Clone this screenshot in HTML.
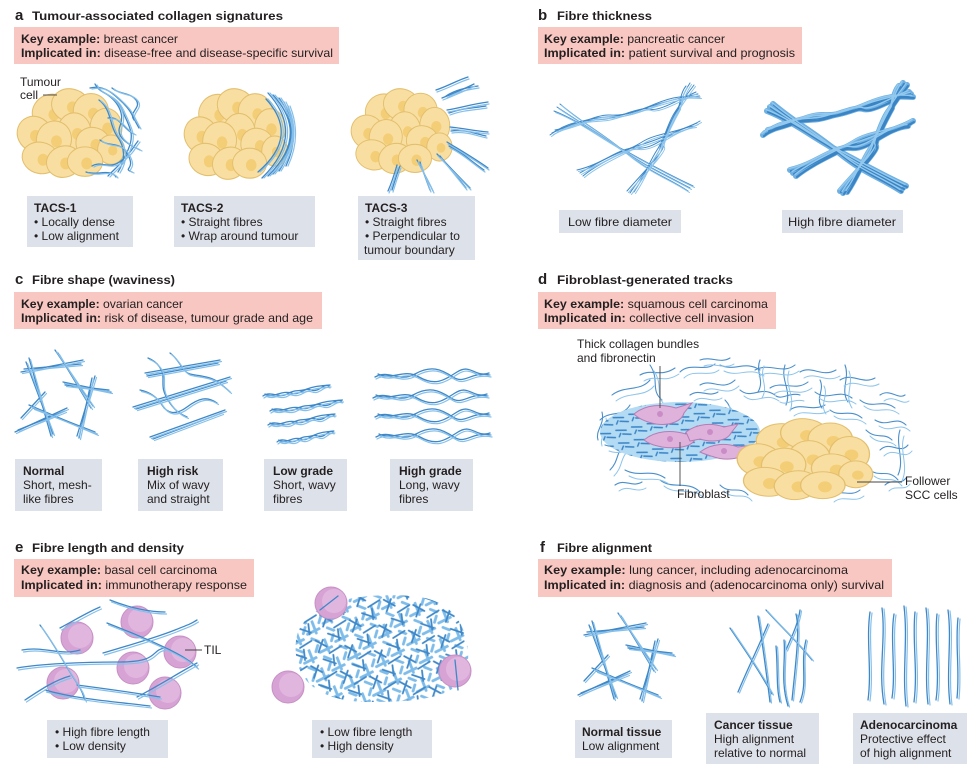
<!DOCTYPE html>
<html><head><meta charset="utf-8">
<style>
html,body{margin:0;padding:0;background:#fff;}
svg{display:block;}
text{font-family:"Liberation Sans",Arial,sans-serif;fill:#231f20;}
.L{font-size:15px;font-weight:bold;}
.t{font-size:11.5px;font-weight:bold;}
.b{font-size:12px;}
.bb{font-weight:bold;}
.fd{fill:none;stroke:#3f88c8;stroke-width:1.3;stroke-linecap:round;}
.fl{fill:none;stroke:#86c0ea;stroke-width:1.2;stroke-linecap:round;}
.ld{fill:none;stroke:#444;stroke-width:0.9;}
.pk{fill:#f9c7c1;}
.gr{fill:#dde1e9;}
</style></head><body>
<svg width="976" height="768" viewBox="0 0 976 768" xmlns="http://www.w3.org/2000/svg">
<defs>
<g id="tum" stroke="#e3bf6e" stroke-width="1.2">
 <ellipse cx="40" cy="26" rx="22" ry="19" fill="#f8dfa1" transform="rotate(-15 40 26)"/><circle cx="44" cy="29" r="6.5" fill="#f4cd77" stroke="none"/>
 <ellipse cx="64" cy="19" rx="23" ry="18" fill="#f8dfa1" transform="rotate(10 64 19)"/><circle cx="66" cy="21" r="6.5" fill="#f4cd77" stroke="none"/>
 <ellipse cx="88" cy="25" rx="21" ry="19" fill="#f8dfa1"/><circle cx="91" cy="28" r="6.5" fill="#f4cd77" stroke="none"/>
 <ellipse cx="106" cy="43" rx="19" ry="21" fill="#f8dfa1"/><circle cx="108" cy="44" r="6.5" fill="#f4cd77" stroke="none"/>
 <ellipse cx="21" cy="50" rx="21" ry="19" fill="#f8dfa1" transform="rotate(20 21 50)"/><circle cx="22" cy="52" r="6.5" fill="#f4cd77" stroke="none"/>
 <ellipse cx="68" cy="48" rx="20" ry="21" fill="#f8dfa1"/><circle cx="72" cy="50" r="6.5" fill="#f4cd77" stroke="none"/>
 <ellipse cx="44" cy="56" rx="21" ry="20" fill="#f8dfa1" transform="rotate(-20 44 56)"/><circle cx="47" cy="58" r="6.5" fill="#f4cd77" stroke="none"/>
 <ellipse cx="91" cy="61" rx="21" ry="18" fill="#f8dfa1" transform="rotate(15 91 61)"/><circle cx="94" cy="62" r="6.5" fill="#f4cd77" stroke="none"/>
 <ellipse cx="112" cy="67" rx="16" ry="16" fill="#f8dfa1"/><circle cx="114" cy="68" r="5.5" fill="#f4cd77" stroke="none"/>
 <ellipse cx="28" cy="76" rx="22" ry="17" fill="#f8dfa1" transform="rotate(10 28 76)"/><circle cx="31" cy="78" r="6.5" fill="#f4cd77" stroke="none"/>
 <ellipse cx="56" cy="80" rx="21" ry="17" fill="#f8dfa1" transform="rotate(-10 56 80)"/><circle cx="58" cy="82" r="6.5" fill="#f4cd77" stroke="none"/>
 <ellipse cx="81" cy="80" rx="21" ry="16" fill="#f8dfa1"/><circle cx="83" cy="82" r="6.5" fill="#f4cd77" stroke="none"/>
</g>

<g id="t1f">
<path d="M90,88 C105,84 116,96 124,104 S133,118 139,128"/>
<path d="M95,84 C101,96 114,92 122,110 S135,134 128,150 S118,165 108,176"/>
<path d="M103,92 C118,100 125,114 120,126 S130,145 140,150"/>
<path d="M99,100 C112,110 109,125 117,136 S126,160 118,172"/>
<path d="M92,166 C101,160 110,171 122,160 S131,150 138,141"/>
<path d="M108,118 C120,116 124,130 134,134"/>
<path d="M86,172 C96,176 110,168 116,177"/>
<path d="M112,88 C120,95 130,92 136,100 S128,112 134,120"/>
<path d="M100,140 C110,148 120,140 128,155 S122,168 132,172"/>
</g>

<g id="t2f">
<path d="M268,93 Q306,135 262,178"/>
<path d="M273,95 Q310,135 268,176"/>
<path d="M279,98 Q306,136 273,174"/>
<path d="M284,102 Q302,136 279,171"/>
<path d="M266,99 Q300,136 258,172"/>
<path d="M288,106 Q300,136 286,166"/>
</g>

<g id="t3f">
<path d="M442,98 C452,94 462,90 474,84"/>
<path d="M446,96 C455,90 465,88 478,86"/>
<path d="M447,110 C460,108 472,104 488,102"/>
<path d="M449,113 C462,108 475,108 486,106"/>
<path d="M450,127 C462,128 474,131 488,132"/>
<path d="M451,131 C465,129 476,134 486,136"/>
<path d="M447,142 C460,150 474,158 488,168"/>
<path d="M449,146 C462,152 472,162 484,170"/>
<path d="M437,154 C447,164 458,176 470,188"/>
<path d="M440,156 C450,168 458,178 466,188"/>
<path d="M417,160 C422,170 428,180 433,191"/>
<path d="M420,162 C424,174 427,182 430,190"/>
<path d="M397,165 C395,172 392,182 388,191"/>
<path d="M400,166 C396,176 394,184 392,190"/>
<path d="M436,90 C448,86 458,80 468,77"/>
</g>

<g id="bund">
<path d="M552,133 C575,122 590,118 607,117 S640,110 652,106 S680,98 698,94"/>
<path d="M555,130 C578,126 596,114 610,115 S636,112 655,104 S684,96 700,97"/>
<path d="M550,135 C572,118 592,121 606,119 S642,106 650,109 S678,100 696,92"/>
<path d="M557,107 C580,122 600,135 622,150 S660,172 690,188"/>
<path d="M560,104 C585,125 598,130 625,152 S665,176 688,191"/>
<path d="M554,111 C578,120 604,140 620,148 S655,168 693,186"/>
<path d="M580,173 C602,160 622,150 640,145 S675,132 697,123"/>
<path d="M583,176 C600,162 626,152 642,142 S678,134 700,121"/>
<path d="M577,170 C604,164 620,146 638,148 S672,128 695,126"/>
<path d="M690,83 C682,95 680,105 677,110 S662,140 660,148 S640,178 630,193"/>
<path d="M694,85 C684,98 682,102 675,112 S665,138 657,150 S645,176 634,192"/>
<path d="M686,86 C680,93 679,108 679,108 S660,142 663,146 S636,180 627,191"/>
</g>

<g id="mesh">
<path d="M6,22 L68,10"/><path d="M9,19 L66,14"/>
<path d="M14,8 L36,86"/><path d="M11,12 L38,84"/>
<path d="M40,0 L78,56"/><path d="M43,3 L76,58"/>
<path d="M48,32 L96,42"/><path d="M50,35 L94,40"/>
<path d="M80,26 L62,86"/><path d="M77,28 L64,88"/>
<path d="M0,82 L52,58"/><path d="M3,80 L50,61"/>
<path d="M14,55 L82,84"/><path d="M18,58 L80,82"/>
<path d="M30,42 L6,68"/>
</g>

<g id="hr">
<path d="M145,373 L220,360"/><path d="M147,376 L218,363"/>
<path d="M148,358 C158,362 163,370 163,378 S162,390 168,400 S180,414 187,417"/>
<path d="M170,353 C180,360 182,372 190,374 S210,376 218,382 S228,390 230,392"/>
<path d="M133,407 L230,377"/><path d="M136,409 L226,381"/>
<path d="M140,390 C150,392 157,397 162,405 S175,416 187,407 S207,396 217,403"/>
<path d="M150,437 L225,410"/><path d="M153,439 L222,413"/>
</g>

<g id="lgrow">
<path d="M0,6 C8,0 16,9 24,4 S36,2 44,-1 S56,-4 67,-5"/>
<path d="M2,4 C10,9 18,0 28,3 S40,-3 48,0 S60,-7 66,-4"/>
</g>
<g id="hgrow">
<path d="M0,2 C14,-6 24,8 40,-1 S66,-6 78,2 S96,-4 115,0"/>
<path d="M3,-1 C18,6 28,-7 44,2 S68,6 82,-3 S100,3 114,-2"/>
</g>

<g id="dmesh">
<path d="M600,420 C610,410 622,418 630,405"/>
<path d="M605,445 C618,450 625,440 640,452"/>
<path d="M612,395 C625,385 640,392 650,380"/>
<path d="M625,470 C640,478 650,468 665,478"/>
<path d="M640,375 C652,368 660,378 675,368"/>
<path d="M660,480 C672,490 688,480 700,492"/>
<path d="M680,372 C690,362 705,372 715,364"/>
<path d="M700,385 C712,378 722,392 735,380"/>
<path d="M720,365 C735,372 745,360 760,370"/>
<path d="M740,390 C752,400 760,385 775,395"/>
<path d="M755,370 C770,362 782,375 795,365"/>
<path d="M770,388 C782,380 795,392 808,382"/>
<path d="M800,372 C812,365 822,378 836,370"/>
<path d="M815,392 C828,402 838,388 852,398"/>
<path d="M840,380 C852,372 862,385 875,378"/>
<path d="M860,400 C872,410 882,398 895,408"/>
<path d="M875,420 C888,428 895,415 906,425"/>
<path d="M880,450 C890,440 900,455 908,445"/>
<path d="M870,470 C880,478 888,468 898,480"/>
<path d="M860,490 C850,498 840,488 830,496"/>
<path d="M790,410 C800,402 812,412 825,405"/>
<path d="M830,410 C840,418 850,408 862,418"/>
<path d="M610,470 C620,460 615,450 628,442"/>
<path d="M598,440 C595,430 605,425 602,412"/>
<path d="M650,365 C660,380 650,390 662,400"/>
<path d="M725,400 C735,410 728,420 740,425"/>
<path d="M880,395 C890,388 898,400 905,395"/>
<path d="M720,485 C730,495 740,485 748,495"/>
<path d="M785,365 C780,380 792,390 786,405"/>
<path d="M845,365 C850,378 840,390 848,402"/>
<path d="M900,430 C895,445 905,460 898,475"/>
<path d="M760,360 C755,372 765,380 758,392"/>
<path d="M690,395 C700,388 708,398 718,392"/>
<path d="M820,380 C825,390 815,398 822,408"/>
<path d="M866,430 C876,440 884,432 892,440"/>
<path d="M615,485 C625,478 632,488 642,482"/>
<path d="M700,360 C712,356 720,364 730,358"/>
<path d="M800,395 C790,392 782,400 776,396"/>
<path d="M885,485 C892,478 900,486 906,478"/>
</g>

<g id="el">
<path d="M17,668 C40,664 80,662 120,662 S150,650 165,648"/>
<path d="M40,625 C55,645 65,665 75,680 S82,694 85,700"/>
<path d="M60,628 C75,620 88,612 100,607"/>
<path d="M107,623 C130,632 150,640 170,650 S190,662 197,667"/>
<path d="M103,653 C130,645 155,638 175,630 S190,624 197,620"/>
<path d="M77,685 C100,688 130,692 160,697"/>
<path d="M137,697 C160,685 180,672 197,663"/>
<path d="M25,700 C40,690 55,680 70,676"/>
<path d="M110,600 C130,608 150,612 165,612"/>
<path d="M22,650 C45,646 60,656 80,650"/>
<path d="M45,690 C80,700 120,702 150,706"/>
</g>

<g id="ca">
<path d="M730,628 C745,650 760,672 772,694"/>
<path d="M768,624 C758,648 748,668 738,692"/>
<path d="M758,616 C762,640 766,670 770,702"/>
<path d="M766,610 C782,628 796,640 812,660"/>
<path d="M796,614 C800,630 796,660 792,700"/>
<path d="M784,640 C786,660 780,680 788,706"/>
<path d="M806,640 C800,664 808,682 800,702"/>
<path d="M776,646 C778,668 776,688 780,702"/>
<path d="M800,610 C798,625 790,640 786,650"/>
</g>

<g id="ad">
<path d="M870,612 C866,640 872,670 868,700"/>
<path d="M882,608 C886,640 878,670 884,704"/>
<path d="M894,614 C890,640 896,672 892,698"/>
<path d="M904,606 C908,640 902,672 906,706"/>
<path d="M915,612 C912,640 918,670 914,702"/>
<path d="M926,608 C930,640 924,670 928,704"/>
<path d="M937,614 C934,640 940,672 936,700"/>
<path d="M948,610 C952,640 946,672 950,704"/>
<path d="M958,618 C955,645 960,670 957,698"/>
</g>

<pattern id="pdense" width="16" height="13" patternUnits="userSpaceOnUse" patternTransform="rotate(-12)">
<g fill="none" stroke="#3a84c6" stroke-width="1.5" stroke-linecap="round">
<path d="M1,3 L11,5"/><path d="M7,8 L15,10"/><path d="M3,10 L5,7"/>
</g></pattern>
<pattern id="pshort" width="30" height="26" patternUnits="userSpaceOnUse" patternTransform="rotate(10)">
<g fill="none" stroke="#3f88c8" stroke-width="1.8" stroke-linecap="round">
<path d="M2,4 L14,8"/><path d="M9,2 L7,15"/><path d="M18,14 L28,5"/><path d="M13,21 L26,23"/><path d="M22,15 L25,25"/>
</g></pattern>
<pattern id="pshort2" width="22" height="19" patternUnits="userSpaceOnUse" patternTransform="rotate(55) translate(5,3)">
<g fill="none" stroke="#7ebcea" stroke-width="2.8" stroke-linecap="round">
<path d="M1,3 L13,6"/><path d="M11,1 L9,14"/><path d="M15,13 L21,9"/><path d="M2,12 L6,17"/>
</g></pattern>
<clipPath id="cdt"><ellipse cx="680" cy="432" rx="80" ry="30"/></clipPath>
<clipPath id="ce"><path d="M296,640 C302,605 350,592 410,596 C455,598 470,630 468,662 C466,695 430,702 370,702 C318,702 292,680 296,640Z"/></clipPath>
</defs>

<!-- ===== Panel a ===== -->
<text x="15" y="20" class="L">a</text>
<text x="32" y="20" class="t" textLength="251" lengthAdjust="spacingAndGlyphs">Tumour-associated collagen signatures</text>
<rect x="14" y="27" width="325" height="37" class="pk"/>
<text x="21" y="43" class="b" textLength="157" lengthAdjust="spacingAndGlyphs"><tspan class="bb">Key example:</tspan> breast cancer</text>
<text x="21" y="57" class="b" textLength="312" lengthAdjust="spacingAndGlyphs"><tspan class="bb">Implicated in:</tspan> disease-free and disease-specific survival</text>

<use href="#tum" transform="translate(17,88) scale(0.84,0.92)"/>
<use href="#t1f" class="fd"/>
<use href="#t1f" class="fl" transform="translate(2,1)"/>
<text x="20" y="86" class="b">Tumour</text>
<text x="20" y="99" class="b">cell</text>
<line x1="43" y1="95" x2="57" y2="95" class="ld"/>

<use href="#tum" transform="translate(184,88) scale(0.81,0.94)"/>
<use href="#t2f" class="fd"/>
<use href="#t2f" class="fl" transform="translate(2,0)"/>

<use href="#tum" transform="translate(351,88) scale(0.79,0.88)"/>
<use href="#t3f" class="fd"/>
<use href="#t3f" class="fl" transform="translate(1,2)"/>

<rect x="27" y="196" width="106" height="51" class="gr"/>
<text x="34" y="212" class="b bb">TACS-1</text>
<text x="34" y="226" class="b">• Locally dense</text>
<text x="34" y="240" class="b">• Low alignment</text>

<rect x="174" y="196" width="141" height="51" class="gr"/>
<text x="181" y="212" class="b bb">TACS-2</text>
<text x="181" y="226" class="b">• Straight fibres</text>
<text x="181" y="240" class="b">• Wrap around tumour</text>

<rect x="358" y="196" width="117" height="64" class="gr"/>
<text x="365" y="212" class="b bb">TACS-3</text>
<text x="365" y="226" class="b">• Straight fibres</text>
<text x="365" y="240" class="b">• Perpendicular to</text>
<text x="364" y="254" class="b">tumour boundary</text>

<!-- ===== Panel b ===== -->
<text x="538" y="20" class="L">b</text>
<text x="557" y="20" class="t" textLength="95" lengthAdjust="spacingAndGlyphs">Fibre thickness</text>
<rect x="538" y="27" width="264" height="37" class="pk"/>
<text x="544" y="43" class="b" textLength="181" lengthAdjust="spacingAndGlyphs"><tspan class="bb">Key example:</tspan> pancreatic cancer</text>
<text x="544" y="57" class="b" textLength="251" lengthAdjust="spacingAndGlyphs"><tspan class="bb">Implicated in:</tspan> patient survival and prognosis</text>

<use href="#bund" fill="none" stroke="#3f88c8" stroke-width="1" stroke-linecap="round"/>
<use href="#bund" fill="none" stroke="#8cc4ec" stroke-width="1" stroke-linecap="round" transform="translate(1.5,1.5)"/>
<use href="#bund" fill="none" stroke="#6fb0e2" stroke-width="6" stroke-linecap="round" transform="translate(213,0)"/>
<use href="#bund" fill="none" stroke="#3a84c4" stroke-width="2" stroke-linecap="round" transform="translate(214,1)"/>
<use href="#bund" fill="none" stroke="#93c9ee" stroke-width="1.4" stroke-linecap="round" transform="translate(212,-1.5)"/>

<rect x="559" y="210" width="122" height="23" class="gr"/>
<text x="568" y="226" class="b" textLength="104" lengthAdjust="spacingAndGlyphs">Low fibre diameter</text>
<rect x="782" y="210" width="121" height="23" class="gr"/>
<text x="788" y="226" class="b" textLength="108" lengthAdjust="spacingAndGlyphs">High fibre diameter</text>

<!-- ===== Panel c ===== -->
<text x="15" y="284" class="L">c</text>
<text x="32" y="284" class="t" textLength="143" lengthAdjust="spacingAndGlyphs">Fibre shape (waviness)</text>
<rect x="14" y="292" width="308" height="37" class="pk"/>
<text x="21" y="308" class="b" textLength="162" lengthAdjust="spacingAndGlyphs"><tspan class="bb">Key example:</tspan> ovarian cancer</text>
<text x="21" y="322" class="b" textLength="292" lengthAdjust="spacingAndGlyphs"><tspan class="bb">Implicated in:</tspan> risk of disease, tumour grade and age</text>

<use href="#mesh" class="fd" transform="translate(15,350)"/>
<use href="#mesh" class="fl" transform="translate(16.5,351.5)"/>
<use href="#hr" class="fd"/>
<use href="#hr" class="fl" transform="translate(1.5,1.5)"/>
<g class="fd">
<use href="#lgrow" transform="translate(263,390)"/>
<use href="#lgrow" transform="translate(270,405) scale(1.08,1)"/>
<use href="#lgrow" transform="translate(268,419)"/>
<use href="#lgrow" transform="translate(277,436) scale(0.85,1)"/>
<use href="#hgrow" transform="translate(375,375)"/>
<use href="#hgrow" transform="translate(373,396)"/>
<use href="#hgrow" transform="translate(375,415)"/>
<use href="#hgrow" transform="translate(376,435)"/>
</g>
<g class="fl">
<use href="#lgrow" transform="translate(264,392)"/>
<use href="#lgrow" transform="translate(271,407) scale(1.08,1)"/>
<use href="#lgrow" transform="translate(269,421)"/>
<use href="#lgrow" transform="translate(278,438) scale(0.85,1)"/>
<use href="#hgrow" transform="translate(376,377)"/>
<use href="#hgrow" transform="translate(374,398)"/>
<use href="#hgrow" transform="translate(376,417)"/>
<use href="#hgrow" transform="translate(377,437)"/>
</g>

<rect x="15" y="459" width="87" height="52" class="gr"/>
<text x="23" y="475" class="b bb">Normal</text>
<text x="23" y="489" class="b">Short, mesh-</text>
<text x="23" y="503" class="b">like fibres</text>
<rect x="138" y="459" width="85" height="52" class="gr"/>
<text x="147" y="475" class="b bb">High risk</text>
<text x="147" y="489" class="b">Mix of wavy</text>
<text x="147" y="503" class="b">and straight</text>
<rect x="264" y="459" width="83" height="52" class="gr"/>
<text x="273" y="475" class="b bb">Low grade</text>
<text x="273" y="489" class="b">Short, wavy</text>
<text x="273" y="503" class="b">fibres</text>
<rect x="390" y="459" width="83" height="52" class="gr"/>
<text x="399" y="475" class="b bb">High grade</text>
<text x="399" y="489" class="b">Long, wavy</text>
<text x="399" y="503" class="b">fibres</text>

<!-- ===== Panel d ===== -->
<text x="538" y="284" class="L">d</text>
<text x="557" y="284" class="t" textLength="176" lengthAdjust="spacingAndGlyphs">Fibroblast-generated tracks</text>
<rect x="538" y="292" width="238" height="37" class="pk"/>
<text x="544" y="308" class="b" textLength="224" lengthAdjust="spacingAndGlyphs"><tspan class="bb">Key example:</tspan> squamous cell carcinoma</text>
<text x="544" y="322" class="b" textLength="210" lengthAdjust="spacingAndGlyphs"><tspan class="bb">Implicated in:</tspan> collective cell invasion</text>

<use href="#dmesh" fill="none" stroke="#4a8fcb" stroke-width="1.1" stroke-linecap="round"/>
<use href="#dmesh" fill="none" stroke="#8cc4ec" stroke-width="1" stroke-linecap="round" transform="translate(4,6)"/>
<g clip-path="url(#cdt)">
<rect x="596" y="396" width="170" height="72" fill="#b3dbf4"/>
<rect x="596" y="396" width="170" height="72" fill="url(#pdense)"/>
</g>
<g fill="#dfb2dc" stroke="#b47db4" stroke-width="1">
<path d="M634,414 C646,404 662,404 676,408 L692,403 L684,413 C682,421 670,426 656,424 C646,422 639,419 634,414Z"/>
<path d="M644,440 C656,430 672,430 686,434 L700,430 L694,441 C690,447 676,449 662,447 C652,445 648,443 644,440Z"/>
<path d="M686,432 C698,423 712,423 724,427 L738,424 L731,433 C727,441 712,443 700,439 L690,441 Z"/>
<path d="M700,452 C712,443 726,443 738,447 L752,445 L745,453 C741,459 726,461 714,457 C708,455 704,454 700,452Z"/>
</g>
<g fill="#c98cc6"><circle cx="660" cy="414" r="3"/><circle cx="670" cy="439" r="3"/><circle cx="710" cy="432" r="3"/><circle cx="724" cy="451" r="3"/></g>
<use href="#tum" transform="translate(737,418) scale(1.06,0.84)"/>

<text x="577" y="348" class="b">Thick collagen bundles</text>
<text x="577" y="362" class="b">and fibronectin</text>
<line x1="660" y1="366" x2="660" y2="408" class="ld"/>
<line x1="680" y1="442" x2="680" y2="486" class="ld"/>
<text x="677" y="498" class="b">Fibroblast</text>
<line x1="857" y1="482" x2="902" y2="482" class="ld"/>
<text x="905" y="485" class="b">Follower</text>
<text x="905" y="499" class="b">SCC cells</text>

<!-- ===== Panel e ===== -->
<text x="15" y="552" class="L">e</text>
<text x="32" y="552" class="t" textLength="152" lengthAdjust="spacingAndGlyphs">Fibre length and density</text>
<rect x="14" y="559" width="240" height="38" class="pk"/>
<text x="21" y="574" class="b" textLength="196" lengthAdjust="spacingAndGlyphs"><tspan class="bb">Key example:</tspan> basal cell carcinoma</text>
<text x="21" y="589" class="b" textLength="226" lengthAdjust="spacingAndGlyphs"><tspan class="bb">Implicated in:</tspan> immunotherapy response</text>

<g stroke="#c690c4" stroke-width="1">
<circle cx="77" cy="638" r="16" fill="#d7a3d5"/><circle cx="80" cy="636" r="12" fill="#e0b6de" stroke="none"/>
<circle cx="137" cy="622" r="16" fill="#d7a3d5"/><circle cx="140" cy="620" r="12" fill="#e0b6de" stroke="none"/>
<circle cx="180" cy="652" r="16" fill="#d7a3d5"/><circle cx="183" cy="650" r="12" fill="#e0b6de" stroke="none"/>
<circle cx="133" cy="668" r="16" fill="#d7a3d5"/><circle cx="136" cy="666" r="12" fill="#e0b6de" stroke="none"/>
<circle cx="63" cy="683" r="16" fill="#d7a3d5"/><circle cx="66" cy="681" r="12" fill="#e0b6de" stroke="none"/>
<circle cx="165" cy="693" r="16" fill="#d7a3d5"/><circle cx="168" cy="691" r="12" fill="#e0b6de" stroke="none"/>
</g>
<use href="#el" class="fd"/>
<use href="#el" class="fl" transform="translate(1.5,2)"/>
<line x1="185" y1="650" x2="202" y2="650" class="ld"/>
<text x="204" y="654" class="b">TIL</text>

<g clip-path="url(#ce)">
<rect x="290" y="590" width="185" height="118" fill="url(#pshort2)"/>
<rect x="290" y="590" width="185" height="118" fill="url(#pshort)"/>
</g>
<g stroke="#c690c4" stroke-width="1">
<circle cx="331" cy="603" r="16" fill="#d7a3d5"/><circle cx="334" cy="601" r="12" fill="#e0b6de" stroke="none"/>
<circle cx="455" cy="671" r="16" fill="#d7a3d5"/><circle cx="458" cy="669" r="12" fill="#e0b6de" stroke="none"/>
<circle cx="288" cy="687" r="16" fill="#d7a3d5"/><circle cx="291" cy="685" r="12" fill="#e0b6de" stroke="none"/>
</g>
<path d="M320,610 L338,596 M455,660 L458,690" class="fd" stroke-width="2"/>

<rect x="47" y="720" width="121" height="38" class="gr"/>
<text x="55" y="736" class="b">• High fibre length</text>
<text x="55" y="750" class="b">• Low density</text>
<rect x="312" y="720" width="120" height="38" class="gr"/>
<text x="320" y="736" class="b">• Low fibre length</text>
<text x="320" y="750" class="b">• High density</text>

<!-- ===== Panel f ===== -->
<text x="540" y="552" class="L">f</text>
<text x="557" y="552" class="t" textLength="95" lengthAdjust="spacingAndGlyphs">Fibre alignment</text>
<rect x="538" y="559" width="354" height="38" class="pk"/>
<text x="544" y="574" class="b" textLength="304" lengthAdjust="spacingAndGlyphs"><tspan class="bb">Key example:</tspan> lung cancer, including adenocarcinoma</text>
<text x="544" y="589" class="b" textLength="340" lengthAdjust="spacingAndGlyphs"><tspan class="bb">Implicated in:</tspan> diagnosis and (adenocarcinoma only) survival</text>

<use href="#mesh" class="fd" transform="translate(578,613)"/>
<use href="#mesh" class="fl" transform="translate(579.5,614.5)"/>
<use href="#ca" class="fd"/>
<use href="#ca" class="fl" transform="translate(1.5,1)"/>
<use href="#ad" class="fd" stroke-width="1.6"/>
<use href="#ad" class="fl" transform="translate(2,1)"/>

<rect x="575" y="720" width="97" height="38" class="gr"/>
<text x="582" y="736" class="b bb">Normal tissue</text>
<text x="582" y="750" class="b">Low alignment</text>
<rect x="706" y="713" width="113" height="51" class="gr"/>
<text x="714" y="729" class="b bb">Cancer tissue</text>
<text x="714" y="743" class="b">High alignment</text>
<text x="714" y="757" class="b">relative to normal</text>
<rect x="853" y="713" width="114" height="51" class="gr"/>
<text x="860" y="729" class="b bb">Adenocarcinoma</text>
<text x="860" y="743" class="b">Protective effect</text>
<text x="860" y="757" class="b">of high alignment</text>
</svg>
</body></html>
